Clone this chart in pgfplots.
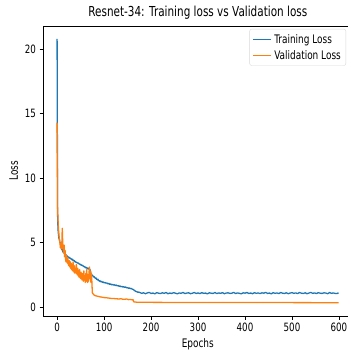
\documentclass[border=0pt]{standalone}
\usepackage{fontspec}
\setmainfont{DejaVu Sans}[FakeStretch=0.76]
\usepackage{pgfplots}
\pgfplotsset{compat=1.18}
\definecolor{mplblue}{HTML}{1F77B4}
\definecolor{mplorange}{HTML}{FF7F0E}
\begin{document}
\begin{tikzpicture}
\begin{axis}[
  at={(0,0)}, anchor=south west,
  scale only axis, width=309.6bp, height=290bp,
  xmin=-30, xmax=629, ymin=-0.7, ymax=21.8,
  xtick={0,100,200,300,400,500,600},
  ytick={0,5,10,15,20},
  tick align=outside, major tick length=3.5bp,
  tick style={black, line width=0.6bp},
  axis line style={black, line width=0.7bp},
  xtick pos=bottom, ytick pos=left,
  /pgf/number format/assume math mode=true,
  tick label style={font=\fontsize{11.5}{12}\selectfont},
  title={Resnet-34: Training loss vs Validation loss},
  title style={font=\fontsize{13.8}{15}\selectfont, yshift=-3bp},
  xlabel={Epochs}, ylabel={Loss},
  label style={font=\fontsize{11.8}{12}\selectfont},
  legend style={at={(0.9787,0.9897)}, anchor=north east, draw=black!15, rounded corners=2pt,
    font=\fontsize{11.8}{13}\selectfont, inner sep=3bp, row sep=1.5bp},
  legend image code/.code={\draw[#1, line width=1.6bp] (0bp,0bp) -- (18bp,0bp);},
  legend cell align=left,
]
\addplot[mplblue, line width=1.3bp, line join=round] coordinates {
(0,20.8)(1,7.2)(2,6.0)(3,5.6)(4,5.3)(5,5.25)(6,5.0)(7,4.95)(8,4.7)(9,4.6)(10,4.45)(11,4.5)(12,4.3)(13,4.25)(14,4.2)(15,4.25)(16,4.1)(17,4.12)(18,4.0)(19,4.05)(20,3.95)(21,3.98)(22,3.9)(24,3.88)(26,3.8)(27,3.84)(28,3.75)(30,3.74)(32,3.65)(33,3.7)(34,3.62)(36,3.58)(37,3.6)(38,3.5)(40,3.5)(41,3.44)(42,3.46)(44,3.4)(45,3.42)(46,3.35)(48,3.34)(49,3.28)(50,3.3)(52,3.22)(53,3.25)(54,3.2)(56,3.18)(57,3.12)(58,3.14)(60,3.05)(61,3.1)(62,3.02)(64,3.04)(65,2.96)(66,3.0)(67,2.94)(68,3.02)(70,2.88)(71,2.8)(72,2.62)(73,2.55)(74,2.48)(76,2.42)(78,2.32)(79,2.36)(80,2.28)(82,2.22)(83,2.25)(84,2.15)(86,2.12)(87,2.16)(88,2.05)(90,2.04)(91,1.98)(92,2.02)(94,1.95)(95,1.98)(96,1.92)(98,1.94)(100,1.87)(102,1.9)(104,1.85)(106,1.86)(108,1.8)(110,1.83)(112,1.75)(114,1.79)(116,1.72)(118,1.75)(120,1.7)(122,1.72)(124,1.67)(126,1.7)(128,1.64)(130,1.66)(132,1.6)(134,1.63)(136,1.57)(138,1.6)(140,1.55)(142,1.57)(144,1.52)(146,1.55)(148,1.49)(150,1.5)(152,1.45)(154,1.48)(156,1.42)(158,1.44)(160,1.38)(162,1.36)(164,1.3)(166,1.25)(168,1.2)(170,1.18)(172,1.14)(174,1.16)
(176,1.12)(180,1.06)(184,1.10)(188,1.03)(192,1.09)(196,1.13)(200,1.05)(204,1.08)(208,1.02)(212,1.11)(216,1.07)(220,1.04)(224,1.10)(228,1.06)(232,1.12)(236,1.03)(240,1.08)(244,1.05)(248,1.11)(252,1.07)(256,1.02)(260,1.09)(264,1.06)(268,1.13)(272,1.04)(276,1.08)(280,1.10)(284,1.03)(288,1.07)(292,1.12)(296,1.05)(300,1.09)(304,1.04)(308,1.11)(312,1.06)(316,1.08)(320,1.02)(324,1.10)(328,1.07)(332,1.05)(336,1.12)(340,1.04)(344,1.09)(348,1.06)(352,1.11)(356,1.03)(360,1.08)(364,1.10)(368,1.05)(372,1.07)(376,1.13)(380,1.04)(384,1.09)(388,1.06)(392,1.02)(396,1.10)(400,1.07)(404,1.12)(408,1.05)(412,1.08)(416,1.03)(420,1.11)(424,1.06)(428,1.09)(432,1.04)(436,1.10)(440,1.07)(444,1.13)(448,1.05)(452,1.08)(456,1.02)(460,1.11)(464,1.06)(468,1.09)(472,1.04)(476,1.12)(480,1.07)(484,1.05)(488,1.10)(492,1.03)(496,1.08)(500,1.11)(504,1.06)(508,1.09)(512,1.04)(516,1.12)(520,1.07)(524,1.05)(528,1.10)(532,1.03)(536,1.08)(540,1.13)(544,1.06)(548,1.09)(552,1.04)(556,1.11)(560,1.07)(564,1.05)(568,1.10)(572,1.08)(576,1.03)(580,1.12)(584,1.06)(588,1.09)(592,1.05)(596,1.04)(599,1.10)
};
\addlegendentry{Training Loss}
\addplot[mplorange, line width=1.3bp, line join=round] coordinates {
(0,14.3)(1,7.8)(2,6.8)(3,6.0)(4,5.6)(5,5.2)(6,5.0)(7,4.6)(8,4.9)(9,4.5)(10,4.8)(11,6.1)(12,5.0)(13,4.4)(14,4.2)(15,4.8)(16,3.9)(17,4.4)(18,3.7)(19,3.5)(20,4.0)(21,3.6)(22,3.4)(23,3.8)(24,3.3)(25,3.2)(26,3.6)(27,3.1)(28,3.5)(29,3.0)
(30,3.4)(31,2.9)(32,3.3)(33,2.8)(34,3.5)(35,2.9)(36,2.7)(37,3.2)(38,2.6)(39,3.0)(40,2.7)(41,3.3)(42,2.6)(43,2.5)(44,3.0)(45,2.4)(46,2.8)(47,2.3)(48,2.9)(49,2.4)(50,2.2)(51,2.7)(52,2.3)(53,2.1)(54,2.6)(55,2.2)(56,2.0)(57,2.8)(58,2.1)(59,2.4)(60,1.9)(61,2.6)(62,2.0)(63,2.9)(64,2.1)(65,1.9)(66,2.5)(67,2.0)(68,2.7)(69,3.1)(70,2.2)(71,2.8)(72,1.9)(73,2.6)(74,2.0)(75,1.1)
(76,1.05)(78,0.95)(80,0.9)(84,0.85)(88,0.82)(92,0.78)(96,0.76)(100,0.73)(104,0.72)(108,0.7)(112,0.68)(116,0.66)(120,0.66)(124,0.64)(128,0.63)(132,0.62)(136,0.64)(140,0.6)(144,0.6)(148,0.62)(152,0.57)(156,0.58)(160,0.55)(162,0.56)(163,0.40)(170,0.37)(200,0.36)(250,0.35)(300,0.35)(400,0.34)(500,0.34)(599,0.33)
};
\addlegendentry{Validation Loss}
\end{axis}
\pgfresetboundingbox
\useasboundingbox (-43bp,-39bp) rectangle (305bp,316bp);
\end{tikzpicture}
\end{document}
